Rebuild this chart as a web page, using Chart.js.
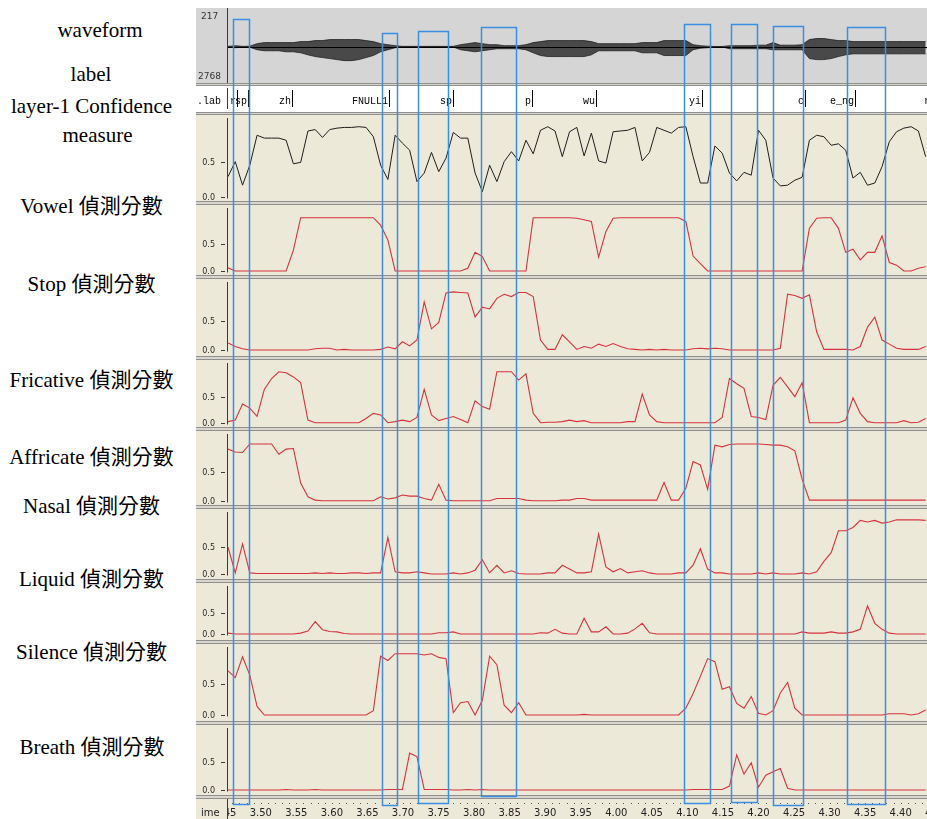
<!DOCTYPE html>
<html>
<head>
<meta charset="utf-8">
<title>偵測分數</title>
<script src="https://cdn.jsdelivr.net/npm/chart.js@4.4.1/dist/chart.umd.min.js"></script>
<style>
  html, body { margin: 0; padding: 0; background: #ffffff; }
  body { position: relative; width: 927px; height: 819px; overflow: hidden; }
  .rowTitle { position: absolute; white-space: nowrap; transform: translateX(-50%);
              font-family: "Liberation Serif", "Noto Sans CJK TC", serif; font-size: 21px;
              line-height: 21px; color: #000; }
  .strip { position: absolute; }
  .split { position: absolute; box-sizing: border-box; background: #d8d5cc;
           border-top: 1px solid #8f8f8f; border-bottom: 1px solid #8f8f8f; }
  canvas { position: absolute; display: block; }
</style>
</head>
<body>
<script>
// ---------------- data ----------------
// analysis frames of the score tracks (seconds)
const frameStart = 3.4539;
const frameStep = 0.010221;

const rowTitles = ['waveform', 'label', 'layer-1 Confidence', 'measure',
  'Vowel 偵測分數', 'Stop 偵測分數', 'Fricative 偵測分數', 'Affricate 偵測分數',
  'Nasal 偵測分數', 'Liquid 偵測分數', 'Silence 偵測分數', 'Breath 偵測分數'];

// waveform envelope (fraction of full scale)
const waveUpper = [0.01,0.03,0.01,0.015,0.09,0.12,0.12,0.12,0.12,0.12,
  0.15,0.15,0.18,0.18,0.21,0.21,0.21,0.21,0.21,0.18,
  0.15,0.09,0.06,0.03,0.01,0.01,0.01,0.01,0.01,0.01,
  0.01,0.01,0.06,0.09,0.12,0.09,0.06,0.06,0.03,0.03,
  0.03,0.06,0.12,0.15,0.18,0.18,0.18,0.18,0.18,0.18,
  0.15,0.09,0.09,0.09,0.09,0.09,0.09,0.12,0.12,0.12,
  0.18,0.18,0.18,0.18,0.06,0.03,0.015,0.006,0.006,0.03,
  0.03,0.03,0.03,0.045,0.045,0.12,0.045,0.045,0.045,0.06,
  0.21,0.24,0.24,0.21,0.18,0.18,0.15,0.15,0.15,0.15,
  0.15,0.15,0.15,0.15,0.15,0.15,0.15];
const waveLower = [-0.01,-0.03,-0.01,-0.015,-0.09,-0.12,-0.12,-0.12,-0.15,-0.15,
  -0.18,-0.24,-0.29,-0.32,-0.35,-0.38,-0.41,-0.41,-0.38,-0.32,
  -0.26,-0.15,-0.09,-0.03,-0.01,-0.01,-0.01,-0.01,-0.01,-0.01,
  -0.01,-0.01,-0.09,-0.12,-0.15,-0.12,-0.09,-0.06,-0.06,-0.06,
  -0.06,-0.09,-0.18,-0.26,-0.29,-0.29,-0.29,-0.29,-0.29,-0.29,
  -0.24,-0.12,-0.12,-0.12,-0.12,-0.12,-0.12,-0.18,-0.18,-0.18,
  -0.26,-0.26,-0.26,-0.26,-0.09,-0.045,-0.03,-0.006,-0.006,-0.06,
  -0.06,-0.06,-0.06,-0.06,-0.06,-0.09,-0.09,-0.09,-0.09,-0.09,
  -0.35,-0.38,-0.38,-0.35,-0.29,-0.24,-0.21,-0.21,-0.21,-0.21,
  -0.21,-0.21,-0.21,-0.21,-0.21,-0.21,-0.21];

const confidence = [0.29,0.50,0.17,0.45,0.87,0.83,0.83,0.83,0.80,0.47,
  0.49,0.93,0.95,0.84,0.95,0.97,0.98,0.98,0.99,0.98,
  0.85,0.45,0.25,0.87,0.76,0.66,0.22,0.34,0.63,0.36,
  0.55,0.91,0.83,0.83,0.34,0.08,0.45,0.22,0.50,0.64,
  0.51,0.80,0.61,0.94,0.99,0.93,0.57,0.92,0.98,0.58,
  0.90,0.51,0.48,0.92,0.93,0.94,0.98,0.51,0.63,0.98,
  0.94,0.90,0.98,0.99,0.57,0.20,0.20,0.72,0.62,0.34,
  0.23,0.35,0.31,0.94,0.80,0.27,0.16,0.17,0.24,0.28,
  0.80,0.87,0.85,0.73,0.75,0.66,0.27,0.35,0.17,0.20,
  0.43,0.78,0.92,0.97,0.99,0.93,0.57];

const vowel = [0.06,0,0,0,0,0,0,0,0,0.39,
  1,1,1,1,1,1,1,1,1,1,
  1,0.86,0.58,0,0,0,0,0,0,0,
  0,0,0,0.05,0.35,0.27,0,0,0,0,
  0,0,1,1,1,1,1,1,0.99,0.96,
  0.93,0.26,0.74,0.99,1,1,1,1,1,1,
  1,1,1,0.93,0.28,0.14,0,0,0,0,
  0,0,0,0,0,0,0,0,0,0,
  0.8,0.99,1,1,0.8,0.35,0.41,0.21,0.35,0.35,
  0.66,0.16,0.11,0,0,0.05,0.08];

const stop = [0.12,0.06,0.02,0,0,0,0,0,0,0,
  0,0,0.02,0.03,0.03,0,0.01,0,0,0,
  0,0.01,0.05,0.02,0.14,0.07,0.17,0.82,0.36,0.47,
  0.97,0.99,0.98,0.97,0.56,0.73,0.70,0.88,0.95,0.91,
  0.98,0.98,0.91,0.17,0.01,0.01,0.26,0.14,0.01,0.06,
  0.03,0.10,0.06,0.11,0.06,0.02,0.01,0,0.01,0,
  0.01,0,0,0,0.02,0.03,0.02,0.03,0.02,0,
  0,0,0,0,0,0,0.03,0.95,0.93,0.88,
  0.94,0.31,0.01,0.01,0.01,0.01,0,0.06,0.39,0.56,
  0.17,0.10,0.03,0.01,0.01,0.01,0.06];

const fricative = [0.02,0.05,0.36,0.28,0.12,0.64,0.85,0.98,0.96,0.88,
  0.77,0.05,0,0,0,0,0,0,0,0.08,
  0.18,0.15,0,0.02,0.05,0.02,0.10,0.64,0.15,0.04,
  0.08,0.12,0.06,0,0.42,0.31,0.26,0.98,0.98,0.98,
  0.82,0.94,0.18,0,0.01,0.01,0.02,0.05,0.02,0.04,
  0,0,0,0,0,0.02,0.02,0.55,0.15,0.02,
  0,0,0,0,0,0,0,0,0.10,0.85,
  0.75,0.66,0.12,0.10,0.06,0.72,0.87,0.69,0.50,0.77,
  0,0,0,0,0,0.05,0.48,0.18,0.02,0,
  0,0,0,0.04,0,0.01,0.08];

const affricate = [0.91,0.86,0.85,1,1,1,1,0.82,0.91,0.92,
  0.31,0.07,0.01,0,0,0,0,0,0,0,
  0,0.07,0.03,0.05,0.10,0.08,0.08,0.04,0.01,0.29,
  0.01,0,0,0,0,0,0,0.04,0.04,0.04,
  0.04,0.01,0,0,0,0,0.01,0.01,0.04,0.04,
  0.01,0.01,0.01,0.01,0.01,0.01,0.01,0.01,0.01,0.01,
  0.32,0.01,0.01,0.22,0.69,0.63,0.20,0.98,0.95,0.99,
  1,1,1,1,0.99,0.98,0.98,0.95,0.88,0.38,
  0.01,0.01,0.01,0.01,0.01,0.01,0.01,0.01,0.01,0.01,
  0.01,0.01,0.01,0.01,0.01,0.01,0.01];

const nasal = [0.49,0.02,0.55,0.02,0.01,0.01,0.01,0.01,0.01,0.01,
  0.01,0.01,0.02,0.01,0.02,0.01,0.01,0.02,0.02,0.01,
  0.02,0.02,0.67,0.04,0.02,0.02,0.04,0.02,0,0,
  0,0.02,0,0.02,0.07,0.26,0.02,0.16,0.02,0.06,
  0.01,0,0,0,0.02,0.02,0.16,0.09,0.02,0.02,
  0.04,0.73,0.13,0.04,0.10,0.02,0.04,0.06,0.02,0,
  0,0,0.02,0.02,0.16,0.46,0.09,0.02,0.02,0,
  0,0,0,0.02,0,0.02,0,0,0,0.02,
  0,0.04,0.23,0.39,0.79,0.79,0.85,0.98,0.95,0.98,
  0.93,0.95,0.99,0.99,0.99,0.99,0.98];

const liquid = [0.02,0,0,0,0,0,0,0,0,0,
  0.02,0.07,0.29,0.10,0.06,0.05,0.01,0,0,0,
  0,0,0,0,0,0,0,0,0,0.03,
  0.03,0.05,0,0,0,0,0,0,0,0,
  0,0,0,0.03,0.02,0.11,0.02,0,0,0.37,
  0.05,0.05,0.17,0,0,0.02,0.12,0.25,0.03,0,
  0,0,0,0,0,0,0,0,0,0,
  0,0,0,0,0,0,0,0,0,0.05,
  0.02,0.02,0.02,0.05,0.02,0.02,0.05,0.11,0.66,0.25,
  0.11,0.02,0,0,0,0,0];

const silence = [0.72,0.61,0.95,0.65,0.14,0,0,0,0,0,
  0,0,0,0,0,0,0,0,0,0,
  0.07,0.96,0.89,1,1,1,1,0.98,1,0.94,
  0.92,0.04,0.20,0.22,0,0.24,0.96,0.82,0.16,0.04,
  0.20,0,0,0,0,0,0,0,0,0.01,
  0,0,0,0,0,0,0,0,0,0,
  0,0,0,0.11,0.35,0.63,0.92,0.87,0.42,0.46,
  0.19,0.11,0.30,0.03,0,0.07,0.36,0.53,0.11,0,
  0,0,0,0,0,0,0,0,0,0,
  0,0.02,0.02,0.02,0,0.02,0.08];

const breath = [0,0,0,0,0,0,0,0,0.01,0,
  0,0,0.01,0,0,0,0,0,0,0,
  0,0,0.01,0.01,0.01,0.65,0.59,0.01,0.01,0.01,
  0.01,0,0,0.01,0,0.01,0,0,0,0,
  0,0,0,0,0,0,0,0,0,0,
  0,0,0,0,0,0,0,0,0,0,
  0,0,0,0,0.01,0.01,0.01,0.01,0.01,0.07,
  0.62,0.28,0.48,0.05,0.26,0.32,0.38,0.03,0,0,
  0,0,0,0,0,0,0,0,0,0,
  0,0,0,0,0,0,0];

// phone labels and the time each one ends (s)
const segLabels = ['r', 'sp', 'zh', 'FNULL1', 'sp', 'p', 'wu', 'yi', 'c', 'e_ng', 'r'];
const segEnds = [3.467, 3.482, 3.544, 3.680, 3.770, 3.881, 3.972, 4.120, 4.265, 4.336, 4.442];

// marked regions (s)
const boxStarts = [3.4613, 3.6700, 3.7215, 3.8097, 4.0952, 4.1617, 4.2200, 4.3240];
const boxEnds   = [3.4838, 3.6920, 3.7629, 3.8589, 4.1314, 4.1979, 4.2630, 4.3783];

const timeTicks = [3.45, 3.50, 3.55, 3.60, 3.65, 3.70, 3.75, 3.80, 3.85, 3.90, 3.95,
  4.00, 4.05, 4.10, 4.15, 4.20, 4.25, 4.30, 4.35, 4.40, 4.45];
const scoreTicks = [0, 0.5];
const waveRangeLabels = ['217', '2768'];
const timeAxisName = 'ime';
const tierName = '.lab';

// ---------------- layout / style ----------------
const VIEW_MIN = 3.4539, VIEW_MAX = 4.4370;
const CANVAS_LEFT = 196, PLOT_LEFT = 228, PAGE_RIGHT = 927;
const BEIGE = '#ece9d8';
const RED = '#d6333d';

const titleLayout = [
  { x: 100, base: 38 }, { x: 91, base: 82 }, { x: 91.5, base: 113.5 }, { x: 97.5, base: 143 },
  { x: 91.5, base: 214 }, { x: 91.5, base: 292 }, { x: 91.5, base: 388 }, { x: 91.5, base: 465 },
  { x: 91.5, base: 514 }, { x: 91.5, base: 587 }, { x: 91.5, base: 660 }, { x: 92, base: 755 }
];

const strips = {
  wave:    { top: 8,   bottom: 83,  bg: '#d5d5d5', center: 46.7, unit: 34 },
  tier:    { top: 86,  bottom: 112, bg: '#ffffff' },
  conf:    { top: 115, bottom: 201, bg: BEIGE, zero: 197.3, one: 126 },
  vowel:   { top: 205, bottom: 275, bg: BEIGE, zero: 271, one: 217.7 },
  stop:    { top: 279, bottom: 356, bg: BEIGE, zero: 350, one: 291.3 },
  fric:    { top: 360, bottom: 427, bg: BEIGE, zero: 422.7, one: 370.7 },
  affr:    { top: 431, bottom: 505, bg: BEIGE, zero: 500.7, one: 444 },
  nasal:   { top: 509, bottom: 579, bg: BEIGE, zero: 574, one: 519.3 },
  liquid:  { top: 583, bottom: 640, bg: BEIGE, zero: 634, one: 591.3 },
  silence: { top: 644, bottom: 721, bg: BEIGE, zero: 715, one: 653.7 },
  breath:  { top: 725, bottom: 795, bg: BEIGE, zero: 790, one: 733.3 },
  time:    { top: 799, bottom: 819, bg: BEIGE }
};
const boxTops    = [19, 33, 31, 27, 24, 24, 26, 27];
const boxBottoms = [804, 805, 803, 796, 803, 802, 805, 804];

// ---------------- page furniture ----------------
rowTitles.forEach((text, i) => {
  const d = document.createElement('div');
  d.className = 'rowTitle';
  d.textContent = text;
  d.style.left = titleLayout[i].x + 'px';
  d.style.top = (titleLayout[i].base - 17.6) + 'px';
  document.body.appendChild(d);
});

const order = Object.keys(strips);
order.forEach((k, i) => {
  const s = strips[k];
  const d = document.createElement('div');
  d.className = 'strip';
  Object.assign(d.style, { left: CANVAS_LEFT + 'px', width: (PAGE_RIGHT - CANVAS_LEFT) + 'px',
    top: s.top + 'px', height: (s.bottom - s.top) + 'px', background: s.bg });
  document.body.appendChild(d);
  if (i < order.length - 1) {
    const next = strips[order[i + 1]];
    const g = document.createElement('div');
    g.className = 'split';
    Object.assign(g.style, { left: CANVAS_LEFT + 'px', width: (PAGE_RIGHT - CANVAS_LEFT) + 'px',
      top: s.bottom + 'px', height: (next.top - s.bottom) + 'px' });
    document.body.appendChild(g);
  }
});

// ---------------- chart helpers ----------------
function makeCanvas(top, height) {
  const c = document.createElement('canvas');
  const w = PAGE_RIGHT - CANVAS_LEFT;
  c.width = w; c.height = height;
  Object.assign(c.style, { left: CANVAS_LEFT + 'px', top: top + 'px', width: w + 'px', height: height + 'px' });
  document.body.appendChild(c);
  return c;
}

function frameSeries(values) {
  return values.map((v, i) => ({ x: frameStart + i * frameStep, y: v }));
}

function baseOptions(ymin, ymax, pluginOpts) {
  return {
    responsive: false, animation: false, events: [], devicePixelRatio: 1,
    layout: { padding: { left: PLOT_LEFT - CANVAS_LEFT, right: 0, top: 0, bottom: 0 } },
    scales: {
      x: { type: 'linear', min: VIEW_MIN, max: VIEW_MAX, display: false },
      y: { type: 'linear', min: ymin, max: ymax, display: false }
    },
    plugins: Object.assign({ legend: { display: false }, tooltip: { enabled: false } }, pluginOpts || {})
  };
}

// value axis on the left of every score strip: "0.0 -|", "0.5 -|"
const scoreAxis = {
  id: 'scoreAxis',
  afterDraw(chart, args, opts) {
    const { ctx, chartArea: a, scales: { y } } = chart;
    const ax = a.left - 0.5;
    ctx.save();
    ctx.strokeStyle = '#3a3a3a';
    ctx.lineWidth = 1;
    const y0 = Math.round(y.getPixelForValue(0)) + 0.5;
    ctx.beginPath(); ctx.moveTo(ax, a.top + 3); ctx.lineTo(ax, y0 + 1); ctx.stroke();
    ctx.font = '8px "DejaVu Sans", sans-serif';
    ctx.fillStyle = '#2a2a2a';
    ctx.textAlign = 'right';
    ctx.textBaseline = 'middle';
    opts.ticks.forEach(v => {
      const py = Math.round(y.getPixelForValue(v)) + 0.5;
      ctx.beginPath(); ctx.moveTo(a.left - 7, py); ctx.lineTo(a.left - 3, py); ctx.stroke();
      ctx.fillText(v.toFixed(1), a.left - 13, py);
    });
    ctx.restore();
  }
};

function scoreStrip(s, values, color, width) {
  const h = s.bottom - s.top;
  const k = s.zero - s.one;
  const ymax = 1 + (s.one - s.top) / k;
  const ymin = -(s.bottom - s.zero) / k;
  new Chart(makeCanvas(s.top, h), {
    type: 'line',
    data: { datasets: [{ data: frameSeries(values), borderColor: color, borderWidth: width,
      pointRadius: 0, tension: 0, fill: false }] },
    options: baseOptions(ymin, ymax, { scoreAxis: { ticks: scoreTicks } }),
    plugins: [scoreAxis]
  });
}

// ---------------- waveform ----------------
const waveFrame = {
  id: 'waveFrame',
  afterDatasetsDraw(chart) {
    const { ctx, chartArea: a, scales: { y } } = chart;
    const y0 = Math.round(y.getPixelForValue(0)) + 0.5;
    ctx.save();
    ctx.strokeStyle = '#000'; ctx.lineWidth = 1;
    ctx.beginPath(); ctx.moveTo(a.left, y0); ctx.lineTo(a.right, y0); ctx.stroke();
    ctx.restore();
  },
  afterDraw(chart) {
    const { ctx, chartArea: a } = chart;
    ctx.save();
    ctx.strokeStyle = '#3a3a3a'; ctx.lineWidth = 1;
    ctx.beginPath(); ctx.moveTo(a.left - 0.5, a.top); ctx.lineTo(a.left - 0.5, a.bottom); ctx.stroke();
    ctx.font = '9px "DejaVu Sans", sans-serif';
    ctx.fillStyle = '#333'; ctx.textAlign = 'left'; ctx.textBaseline = 'middle';
    ctx.fillText(waveRangeLabels[0], 5, 9);
    ctx.fillText(waveRangeLabels[1], 2, 69);
    ctx.restore();
  }
};
(function () {
  const s = strips.wave;
  const h = s.bottom - s.top;
  const ymax = (s.center - s.top) / s.unit;
  const ymin = -(s.bottom - s.center) / s.unit;
  new Chart(makeCanvas(s.top, h), {
    type: 'line',
    data: { datasets: [
      { data: frameSeries(waveUpper), borderColor: '#111', borderWidth: 0.7, pointRadius: 0,
        tension: 0, fill: '+1', backgroundColor: 'rgba(20,20,20,0.72)' },
      { data: frameSeries(waveLower), borderColor: '#111', borderWidth: 0.7, pointRadius: 0,
        tension: 0, fill: false }
    ] },
    options: baseOptions(ymin, ymax),
    plugins: [waveFrame]
  });
})();

// ---------------- label tier ----------------
const tierDraw = {
  id: 'tierDraw',
  afterDraw(chart) {
    const { ctx, chartArea: a, scales: { x } } = chart;
    ctx.save();
    ctx.strokeStyle = '#3a3a3a'; ctx.lineWidth = 1;
    ctx.beginPath(); ctx.moveTo(a.left - 0.5, 2); ctx.lineTo(a.left - 0.5, a.bottom - 3); ctx.stroke();
    ctx.font = '10px "Liberation Mono", monospace';
    ctx.fillStyle = '#000'; ctx.textBaseline = 'alphabetic'; ctx.textAlign = 'left';
    ctx.fillText(tierName, 1, 18);
    ctx.beginPath(); ctx.rect(a.left, a.top, a.right - a.left, a.bottom - a.top); ctx.clip();
    ctx.textAlign = 'right';
    ctx.strokeStyle = '#000';
    segEnds.forEach((t, i) => {
      const px = Math.round(x.getPixelForValue(t)) + 0.5;
      ctx.beginPath(); ctx.moveTo(px, 4); ctx.lineTo(px, 21); ctx.stroke();
      ctx.fillText(segLabels[i], px - 1.5, 18);
    });
    ctx.restore();
  }
};
new Chart(makeCanvas(strips.tier.top, strips.tier.bottom - strips.tier.top), {
  type: 'line', data: { datasets: [] }, options: baseOptions(0, 1), plugins: [tierDraw]
});

// ---------------- score strips ----------------
scoreStrip(strips.conf, confidence, '#1e1e1e', 1);
scoreStrip(strips.vowel, vowel, RED, 1.1);
scoreStrip(strips.stop, stop, RED, 1.1);
scoreStrip(strips.fric, fricative, RED, 1.1);
scoreStrip(strips.affr, affricate, RED, 1.1);
scoreStrip(strips.nasal, nasal, RED, 1.1);
scoreStrip(strips.liquid, liquid, RED, 1.1);
scoreStrip(strips.silence, silence, RED, 1.1);
scoreStrip(strips.breath, breath, RED, 1.1);

// ---------------- time axis ----------------
const timeAxis = {
  id: 'timeAxis',
  afterDraw(chart) {
    const { ctx, chartArea: a, scales: { x } } = chart;
    ctx.save();
    ctx.strokeStyle = '#3a3a3a'; ctx.lineWidth = 1;
    ctx.beginPath(); ctx.moveTo(a.left - 0.5, 0); ctx.lineTo(a.left - 0.5, a.bottom); ctx.stroke();
    ctx.font = '10px "DejaVu Sans", sans-serif';
    ctx.fillStyle = '#222'; ctx.textBaseline = 'middle'; ctx.textAlign = 'left';
    ctx.fillText(timeAxisName, 5, 14);
    ctx.beginPath(); ctx.rect(a.left, a.top, a.right - a.left, a.bottom - a.top); ctx.clip();
    ctx.fillStyle = '#555';
    for (let t = timeTicks[0]; t <= timeTicks[timeTicks.length - 1] + 1e-9; t += 0.01) {
      const px = Math.round(x.getPixelForValue(t));
      ctx.fillRect(px, 4, 1, 1);
    }
    ctx.fillStyle = '#222'; ctx.textAlign = 'center';
    timeTicks.forEach(t => {
      ctx.fillText(t.toFixed(2), x.getPixelForValue(t), 14);
    });
    ctx.restore();
  }
};
new Chart(makeCanvas(strips.time.top, strips.time.bottom - strips.time.top), {
  type: 'line', data: { datasets: [] }, options: baseOptions(0, 1), plugins: [timeAxis]
});

// ---------------- marked regions (drawn over every strip) ----------------
const regionBoxes = {
  id: 'regionBoxes',
  afterDraw(chart) {
    const { ctx, scales: { x } } = chart;
    ctx.save();
    ctx.strokeStyle = '#3b8fe2';
    ctx.lineWidth = 1.5;
    boxStarts.forEach((t0, i) => {
      const x0 = Math.round(x.getPixelForValue(t0)) + 0.5;
      const x1 = Math.round(x.getPixelForValue(boxEnds[i])) + 0.5;
      ctx.strokeRect(x0, boxTops[i] + 0.5, x1 - x0, boxBottoms[i] - boxTops[i]);
    });
    ctx.restore();
  }
};
new Chart(makeCanvas(0, 819), {
  type: 'line', data: { datasets: [] }, options: baseOptions(0, 1), plugins: [regionBoxes]
});
</script>
</body>
</html>
